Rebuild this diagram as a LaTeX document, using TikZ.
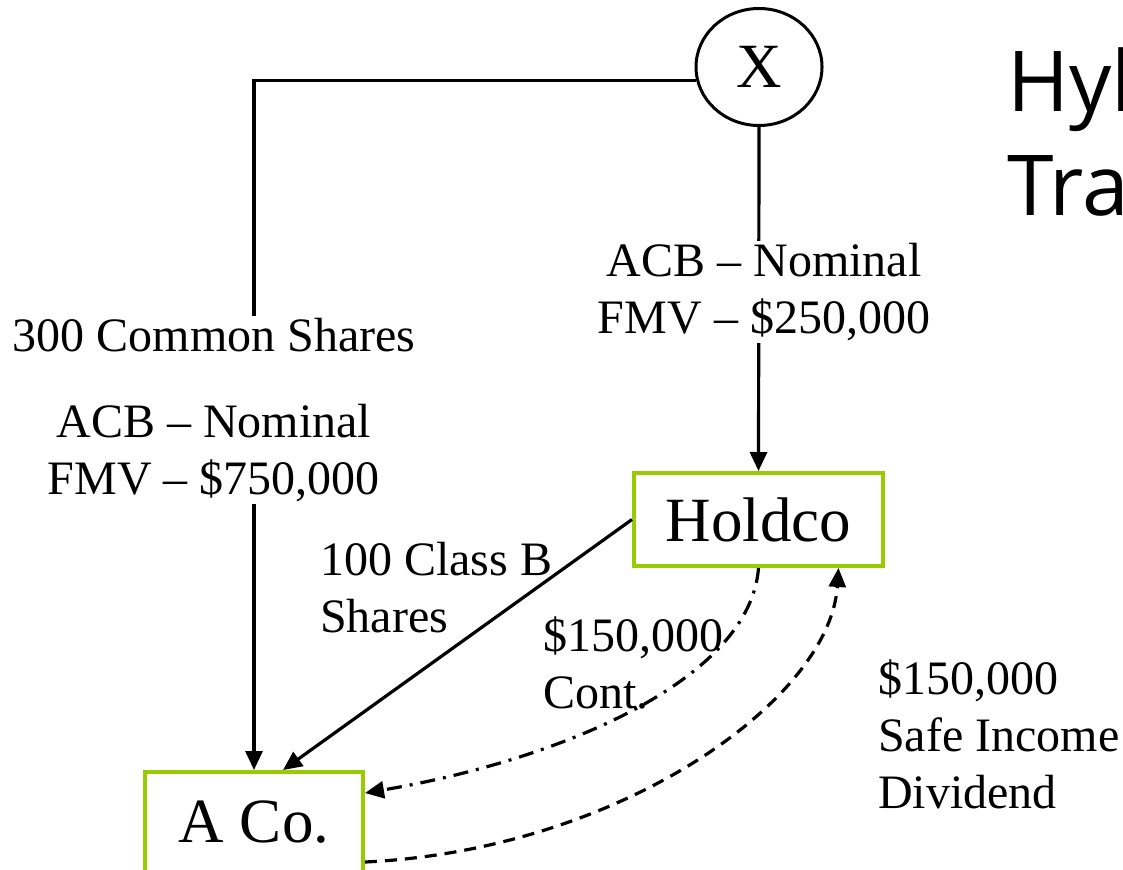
\documentclass[tikz,border=0pt]{standalone}
\usepackage{fontspec}
\setmainfont{Liberation Serif}
\newfontfamily\titlefont{Open Sans}
\usetikzlibrary{arrows.meta,calc,shapes.geometric}
\definecolor{boxgreen}{RGB}{153,204,0}
\begin{document}
\begin{tikzpicture}[x=1pt,y=-1pt,
  entity/.style={draw=boxgreen, line width=4pt, inner sep=0pt, font=\fontsize{63}{70}\selectfont},
  person/.style={draw, ellipse, line width=3pt, minimum width=126pt, minimum height=117pt, inner sep=0pt, font=\fontsize{63}{70}\selectfont},
  lbl/.style={font=\fontsize{48}{57}\selectfont, inner sep=2pt},
  conn/.style={line width=3.2pt, -{Triangle[length=19pt,width=17pt]}},
  titletext/.style={font=\titlefont\fontsize{84}{100}\selectfont, anchor=base west, inner sep=0pt},
]
\useasboundingbox (0,0) rectangle (1123,869);
\clip (0,0) rectangle (1123,869);
\fill[white] (0,0) rectangle (1123,869);

% nodes
\node[person] (X) at (759,67) {X};
\node[entity, minimum width=249pt, minimum height=93pt] (H) at (758.5,519.5) {Holdco};
\node[entity, minimum width=218pt, minimum height=100pt] (A) at (254,822) {A Co.};

% connectors
\draw[conn] (X.192) -| (A.north);
\draw[conn] (X.south) -- (H.north);
\draw[conn] (H.west) -- ([xshift=29pt]A.north);
\draw[conn, dash pattern=on 15pt off 8pt on 3pt off 8pt]
  (H.south) .. controls (750,680) and (560,760) .. ([yshift=29pt]A.east);
\draw[conn, dash pattern=on 12pt off 8pt]
  ([yshift=-40pt]A.east) .. controls (620,850) and (830,700) .. ([xshift=80pt]H.south);

% labels
\node[lbl, fill=white, align=center] (lblleft) at (214,410) {300 Common Shares\\[29pt]ACB – Nominal\\FMV – \$750,000};
\node[lbl, fill=white, align=center] (lblright) at (764,292) {ACB – Nominal\\FMV – \$250,000};
\node[lbl, align=left, anchor=west] (lblclassb) at (318,588) {100 Class B\\Shares};
\node[lbl, align=left, anchor=west] (lblcont) at (541,663) {\$150,000\\Cont.};
\node[lbl, align=left, anchor=west] (lbldiv) at (876,734) {\$150,000\\Safe Income\\Dividend};

% title (cut off at the right edge, as in the reference)
\node[titletext] (title1) at (1007,112) {Hyb};
\node[titletext] (title2) at (1007,215) {Tra};
\end{tikzpicture}
\end{document}
